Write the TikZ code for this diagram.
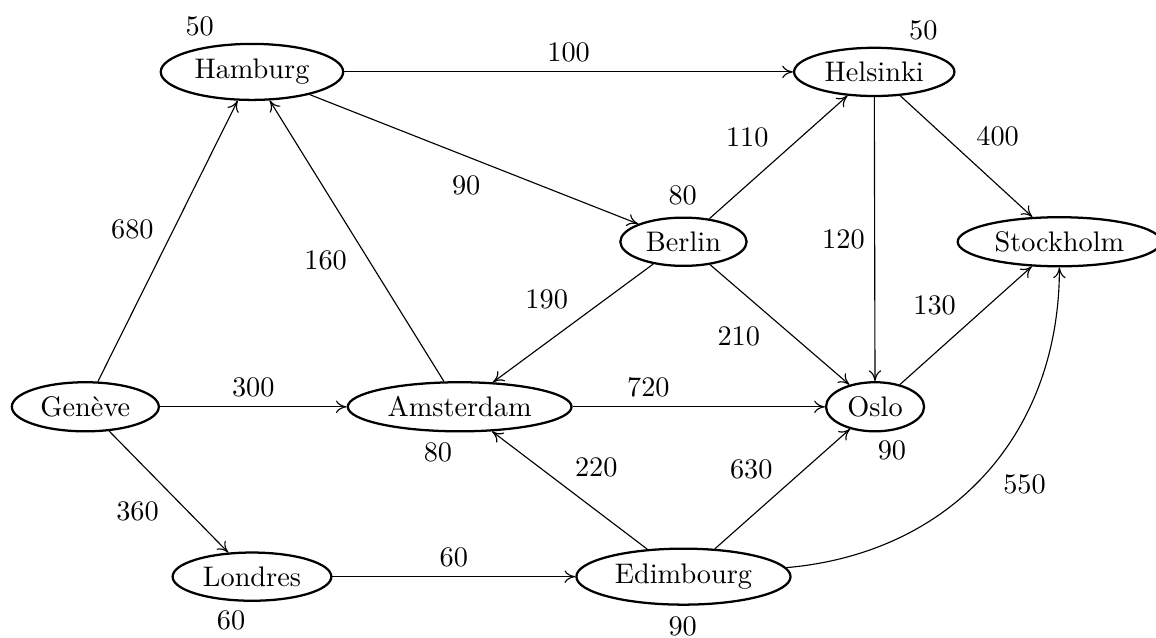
\documentclass[tikz,border=0pt]{standalone}
\usetikzlibrary{shapes.geometric, arrows.meta}

\begin{document}
\begin{tikzpicture}[ville/.style={draw, thick, ellipse, inner sep=2.5pt},
    >={To[length=3.8pt, width=4.4pt]}]
    \useasboundingbox (0,0) rectangle (14.36,7.913);

    % Cities
    \node[ville] (Ham) at (3.13,7.02) {Hamburg};
    \node[ville] (Hel) at (10.86,7.02) {Helsinki};
    \node[ville] (Ber) at (8.49,4.91) {Berlin};
    \node[ville] (Sto) at (13.16,4.91) {Stockholm};
    \node[ville] (Gen) at (1.06,2.86) {Genève};
    \node[ville] (Ams) at (5.71,2.86) {Amsterdam};
    \node[ville] (Osl) at (10.87,2.86) {Oslo};
    \node[ville] (Lon) at (3.13,0.75) {Londres};
    \node[ville] (Edi) at (8.49,0.75) {Edimbourg};

    % City weights
    \node (wHam) at (2.48,7.59) {50};
    \node (wHel) at (11.47,7.54) {50};
    \node (wBer) at (8.48,5.48) {80};
    \node (wAms) at (5.44,2.29) {80};
    \node (wOsl) at (11.08,2.32) {90};
    \node (wLon) at (2.87,0.21) {60};
    \node (wEdi) at (8.48,0.135) {90};

    % Links
    \draw[->] (Ham) -- node[above] (dHamHel) {100} (Hel);
    \draw[->] (Ham) -- node[pos=.55, below left] (dHamBer) {90} (Ber);
    \draw[->] (Ber) -- node[above left] (dBerHel) {110} (Hel);
    \draw[->] (Hel) -- node[above right] (dHelSto) {400} (Sto);
    \draw[->] (Hel) -- node[left] (dHelOsl) {120} (Osl);
    \draw[->] (Gen) -- node[pos=.47, above left] (dGenHam) {680} (Ham);
    \draw[->] (Ams) -- node[below left] (dAmsHam) {160} (Ham);
    \draw[->] (Ber) -- node[pos=.47, above left] (dBerAms) {190} (Ams);
    \draw[->] (Ber) -- node[pos=.43, below left] (dBerOsl) {210} (Osl);
    \draw[->] (Osl) -- node[above left] (dOslSto) {130} (Sto);
    \draw[->] (Gen) -- node[above] (dGenAms) {300} (Ams);
    \draw[->] (Ams) -- node[pos=.3, above] (dAmsOsl) {720} (Osl);
    \draw[->] (Gen) -- node[below left] (dGenLon) {360} (Lon);
    \draw[->] (Edi) -- node[pos=.53, above right] (dEdiAms) {220} (Ams);
    \draw[->] (Edi) -- node[above left] (dEdiOsl) {630} (Osl);
    \draw[->] (Lon) -- node[above] (dLonEdi) {60} (Edi);
    \draw[->] (Edi) to[out=5, in=-90, looseness=1.05] node[pos=.53, below right] (dEdiSto) {550} (Sto);
\end{tikzpicture}
\end{document}
